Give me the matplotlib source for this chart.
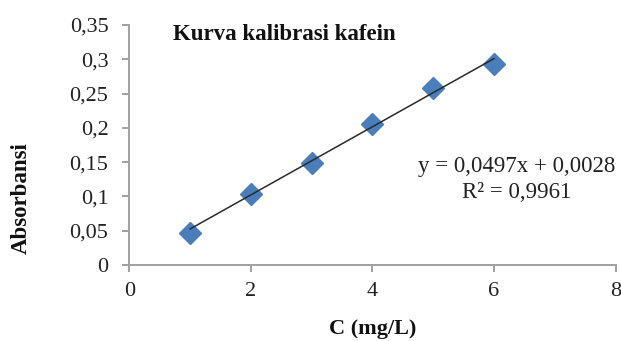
import matplotlib
matplotlib.use("Agg")
import matplotlib.pyplot as plt
from matplotlib.ticker import FuncFormatter
import numpy as np

conc = [1, 2, 3, 4, 5, 6]
absorb = [0.047, 0.103, 0.149, 0.206, 0.258, 0.293]
slope = 0.0497
intercept = 0.0028
r2 = 0.9961
title = "Kurva kalibrasi kafein"
xlabel = "C (mg/L)"
ylabel = "Absorbansi"
xticks = [0, 2, 4, 6, 8]
yticks = [0, 0.05, 0.1, 0.15, 0.2, 0.25, 0.3, 0.35]

plt.rcParams['font.family'] = ['Liberation Serif', 'DejaVu Serif']

fig = plt.figure(figsize=(6.21, 3.41), dpi=100)
ax = fig.add_axes([0.2082, 0.2229, 0.7830, 0.7038])

fit_x = np.array([min(conc), max(conc)])
fit_y = slope * fit_x + intercept
ax.plot(fit_x, fit_y, color='#2a2a2a', lw=1.1, zorder=3)
ax.plot(conc, absorb, linestyle='none', marker='D', markersize=11.5,
        color='#4a7ebb', markeredgecolor='#4a7ebb', zorder=2)

ax.set_xlim(0, 8)
ax.set_ylim(0, 0.35)
ax.set_xticks(xticks)
ax.set_yticks(yticks)

def fmt(v, pos):
    return ('%g' % round(v, 4)).replace('.', ',')

ax.xaxis.set_major_formatter(FuncFormatter(fmt))
ax.yaxis.set_major_formatter(FuncFormatter(fmt))

for s in ['top', 'right']:
    ax.spines[s].set_visible(False)
for s in ['left', 'bottom']:
    ax.spines[s].set_color('#a0a0a0')
    ax.spines[s].set_linewidth(1.4)
ax.tick_params(axis='both', colors='#a0a0a0', labelcolor='#222222',
               labelsize=16, length=5, width=1.4, direction='out')
ax.tick_params(axis='y', pad=10)
ax.tick_params(axis='x', pad=7)

ax.set_xlabel(xlabel, fontsize=16, fontweight='bold', color='#111111')
ax.xaxis.set_label_coords(0.5, -0.225)
ax.set_ylabel(ylabel, fontsize=16.5, fontweight='bold', color='#111111')
ax.yaxis.set_label_coords(-0.2, 0.279)

ax.text(0.089, 0.96, title, transform=ax.transAxes, fontsize=16.5,
        fontweight='bold', ha='left', va='center', color='#111111')
ax.text(0.593, 0.41, 'y = %sx + %s' % (('%.4f' % slope).replace('.', ','),
                                      ('%.4f' % intercept).replace('.', ',')),
        transform=ax.transAxes, fontsize=16.5, ha='left', va='center',
        color='#222222', clip_on=False)
ax.text(0.685, 0.30, 'R² = %s' % ('%.4f' % r2).replace('.', ','),
        transform=ax.transAxes, fontsize=16.5, ha='left', va='center', color='#222222')

fig.savefig('out.png', dpi=100)
